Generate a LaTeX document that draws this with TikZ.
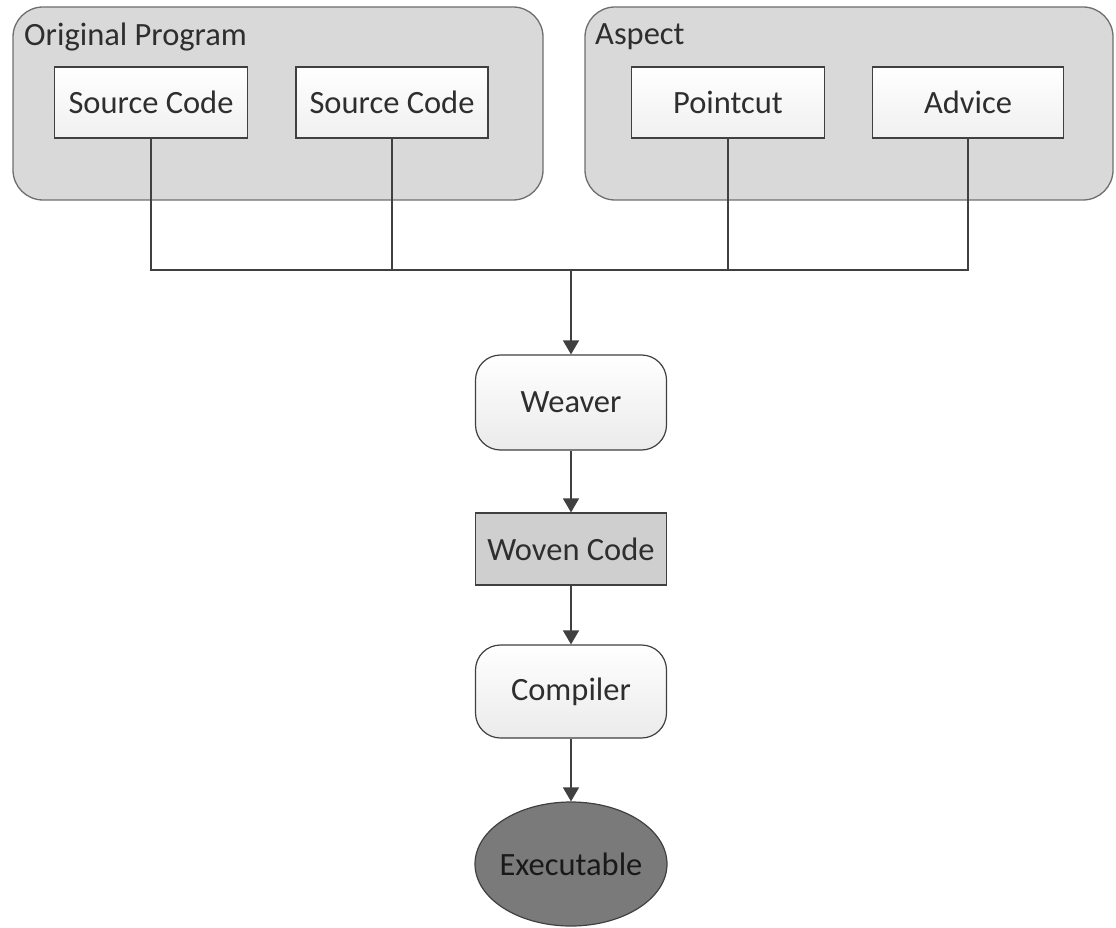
\documentclass[tikz,border=0pt]{standalone}
\usepackage{fontspec}
\setmainfont{Carlito}
\usetikzlibrary{shapes.geometric,arrows.meta}

\definecolor{edge}{HTML}{404040}
\definecolor{groupfill}{HTML}{D9D9D9}
\definecolor{groupline}{HTML}{6E6E6E}
\definecolor{wovenfill}{HTML}{CFCFCF}
\definecolor{exefill}{HTML}{7A7A7A}
\definecolor{ink}{HTML}{2E2E2E}

\tikzset{
  txt/.style={font=\fontsize{32.5}{38}\selectfont, text=ink},
  group/.style={draw=groupline, line width=1.3pt, fill=groupfill, rounded corners=30pt, inner sep=0pt},
  part/.style={txt, draw=edge, line width=1.2pt, top color=white, bottom color=black!6, minimum height=71pt, inner sep=0pt},
  stepbox/.style={txt, draw=edge, line width=1.2pt, minimum width=191pt, inner sep=0pt},
  link/.style={draw=edge, line width=1.4pt},
  flow/.style={link, -{Triangle[length=14pt,width=16pt]}},
}

\begin{document}
\begin{tikzpicture}[x=1pt,y=-1pt]
\useasboundingbox (0,0) rectangle (1116,928);

% containers
\node[group, minimum width=530pt, minimum height=193pt] (prog) at (278,103.5) {};
\node[group, minimum width=528pt, minimum height=193pt] (aspect) at (849,103.5) {};
\node[txt, anchor=west, inner sep=0pt] (progtitle) at (24,37) {Original Program};
\node[txt, anchor=west, inner sep=0pt] (aspecttitle) at (595,37) {Aspect};

% parts of each container
\node[part, minimum width=193pt] (src1) at (151,102.5) {Source Code};
\node[part, minimum width=192pt] (src2) at (392,102.5) {Source Code};
\node[part, minimum width=193pt] (pointcut) at (728,102.5) {Pointcut};
\node[part, minimum width=191pt] (advice) at (968,102.5) {Advice};

% processing chain
\node[stepbox, minimum height=95pt, rounded corners=25pt, top color=white, bottom color=black!8] (weaver) at (571,402.5) {Weaver};
\node[stepbox, minimum height=72pt, fill=wovenfill] (woven) at (571,549) {Woven Code};
\node[stepbox, minimum height=93pt, rounded corners=25pt, top color=white, bottom color=black!8] (compiler) at (571,691.5) {Compiler};
\node[txt, ellipse, draw=edge, line width=1.2pt, fill=exefill, text=black!90, minimum width=192pt, minimum height=124pt, inner xsep=-10pt, inner ysep=0pt] (exe) at (571,864) {Executable};

% collecting bus
\coordinate (bus) at (571,270);
\draw[link] (src1.south) |- (bus);
\draw[link] (advice.south) |- (bus);
\draw[link] (src2.south) -- (src2.south |- bus);
\draw[link] (pointcut.south) -- (pointcut.south |- bus);

% flow arrows
\draw[flow] (bus) -- (weaver.north);
\draw[flow] (weaver) -- (woven);
\draw[flow] (woven) -- (compiler);
\draw[flow] (compiler) -- (exe);
\end{tikzpicture}
\end{document}
